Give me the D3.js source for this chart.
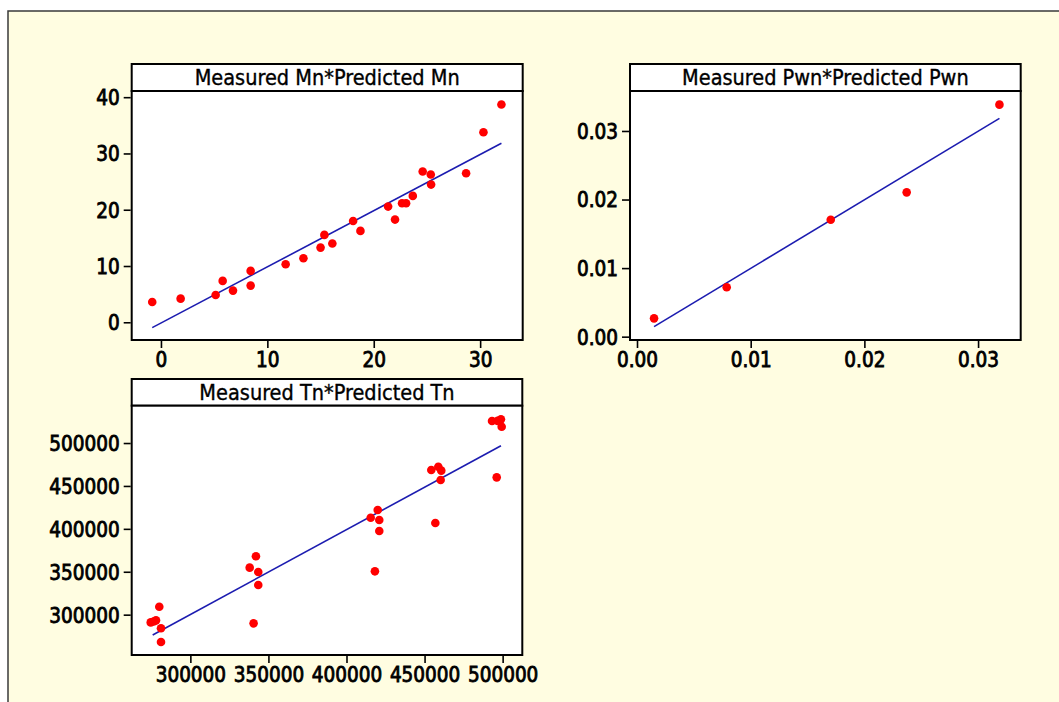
<!DOCTYPE html>
<html><head><meta charset="utf-8">
<script src="https://cdn.jsdelivr.net/npm/d3@7"></script>
<style>
html,body{margin:0;padding:0;background:#fff;}
svg{display:block;}
text{font-family:"DejaVu Sans Condensed","DejaVu Sans",sans-serif;font-stretch:condensed;fill:#000;}
</style></head>
<body>
<svg id="chart" width="1059" height="702"></svg>
<script>
// ---------- Data ----------
const mnTitle = "Measured Mn*Predicted Mn";
const mnPredicted = [-0.82,1.85,5.14,5.8,6.77,8.43,8.43,11.72,13.39,15.0,15.36,16.11,18.06,18.75,21.35,22.0,22.66,23.04,23.67,24.6,25.36,25.39,28.68,30.31,32.0];
const mnMeasured  = [3.6,4.2,4.86,7.35,5.63,9.13,6.52,10.3,11.38,13.27,15.53,13.99,18.0,16.24,20.56,18.25,21.16,21.16,22.46,26.8,26.25,24.47,26.49,33.78,38.7];
const mnFitX = [-0.82, 32.0];
const mnFitY = [-0.95, 31.8];
const mnXTicks = [0,10,20,30];
const mnYTicks = [0,10,20,30,40];

const pwnTitle = "Measured Pwn*Predicted Pwn";
const pwnPredicted = [0.0015,0.00789,0.01704,0.02372,0.03188];
const pwnMeasured  = [0.00267,0.0072,0.01706,0.02105,0.03384];
const pwnFitX = [0.0015, 0.03188];
const pwnFitY = [0.00146, 0.03184];
const pwnXTicks = [0.00,0.01,0.02,0.03];
const pwnYTicks = [0.00,0.01,0.02,0.03];

const tnTitle = "Measured Tn*Predicted Tn";
const tnPredicted = [274600,276500,278000,280100,281200,281200,338000,342000,343500,343500,340500,415500,420000,421000,421000,418200,454300,458800,460700,460300,456900,493200,496800,498900,499400,496200];
const tnMeasured  = [291000,292000,293400,309300,284100,268200,354800,368000,349700,334600,289900,413000,421900,410300,397500,350500,468500,472400,467800,456900,406800,525600,525800,527600,519000,460000];
const tnFitX = [275880, 498930];
const tnFitY = [276310, 496890];
const tnXTicks = [300000,350000,400000,450000,500000];
const tnYTicks = [300000,350000,400000,450000,500000];

// ---------- Layout ----------
const panels = [
  {title:mnTitle, xs:mnPredicted, ys:mnMeasured, fx:mnFitX, fy:mnFitY, xt:mnXTicks, yt:mnYTicks,
   x0:131.7, x1:522.7, t0:64, t1:91, b:340, xd:[-2.75,34.0], yd:[-3.15,41.1], fmt:d3.format("d")},
  {title:pwnTitle, xs:pwnPredicted, ys:pwnMeasured, fx:pwnFitX, fy:pwnFitY, xt:pwnXTicks, yt:pwnYTicks,
   x0:630, x1:1020.7, t0:64, t1:91, b:340, xd:[-0.000616,0.03375], yd:[-0.000486,0.03583], fmt:d3.format(".2f")},
  {title:tnTitle, xs:tnPredicted, ys:tnMeasured, fx:tnFitX, fy:tnFitY, xt:tnXTicks, yt:tnYTicks,
   x0:131.7, x1:522.3, t0:379, t1:405.7, b:655, xd:[262434,512593], yd:[253010,543495], fmt:d3.format("d")}
];

const svg = d3.select("#chart");
svg.append("rect").attr("x",8).attr("y",11).attr("width",1100).attr("height",760)
  .attr("fill","#fffde1").attr("stroke","#3a3a3a").attr("stroke-width",1.5);

panels.forEach(p => {
  const g = svg.append("g");
  const x = d3.scaleLinear().domain(p.xd).range([p.x0, p.x1]);
  const y = d3.scaleLinear().domain(p.yd).range([p.b, p.t1]);

  // title bar
  g.append("rect").attr("x",p.x0).attr("y",p.t0).attr("width",p.x1-p.x0).attr("height",p.t1-p.t0)
    .attr("fill","#fff").attr("stroke","#000").attr("stroke-width",2);
  g.append("text").attr("x",(p.x0+p.x1)/2).attr("y",(p.t0+p.t1)/2+7.5)
    .attr("text-anchor","middle").style("font-size","21.5px").style("stroke","#000").style("stroke-width","0.35px")
    .text(p.title);
  // plot area
  g.append("rect").attr("x",p.x0).attr("y",p.t1).attr("width",p.x1-p.x0).attr("height",p.b-p.t1)
    .attr("fill","#fff").attr("stroke","#000").attr("stroke-width",2);

  // axes
  const ax = g.append("g").attr("transform",`translate(0,${p.b+1})`)
    .call(d3.axisBottom(x).tickValues(p.xt).tickFormat(p.fmt).tickSize(7).tickPadding(4));
  const ay = g.append("g").attr("transform",`translate(${p.x0-1},0)`)
    .call(d3.axisLeft(y).tickValues(p.yt).tickFormat(p.fmt).tickSize(7).tickPadding(4));
  [ax,ay].forEach(a => {
    a.select(".domain").remove();
    a.selectAll(".tick line").attr("stroke","#000").attr("stroke-width",1.6);
    a.selectAll(".tick text").style("font-size","20.5px").attr("fill","#000")
      .style("stroke","#000").style("stroke-width","0.8px");
  });
  ay.selectAll(".tick text").attr("dy","0.36em");

  // fit line
  g.append("line").attr("x1",x(p.fx[0])).attr("y1",y(p.fy[0])).attr("x2",x(p.fx[1])).attr("y2",y(p.fy[1]))
    .attr("stroke","#1c1cb0").attr("stroke-width",1.6);

  // points
  g.selectAll("circle.pt").data(p.xs.map((v,i)=>[v,p.ys[i]])).enter().append("circle")
    .attr("class","pt").attr("cx",d=>x(d[0])).attr("cy",d=>y(d[1])).attr("r",4.3).attr("fill","#ff0000");
});
</script>
</body></html>
